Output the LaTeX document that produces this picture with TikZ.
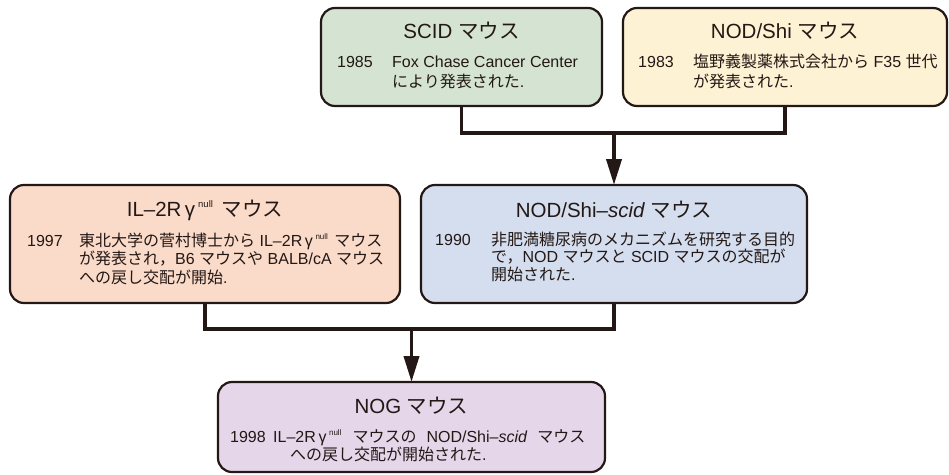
\documentclass[tikz,border=0pt]{standalone}
\usepackage{fontspec}
\setmainfont{Liberation Sans}
\newfontfamily\jpfont{Noto Sans CJK JP}
\usetikzlibrary{arrows.meta}
\newcommand\JA[1]{{\jpfont #1}}
\newcommand\nulT{\hspace{3pt}\raisebox{8.5pt}{\fontsize{9.5}{9.5}\selectfont null}\hspace{3pt}}
\newcommand\nulB{\hspace{2.5pt}\raisebox{7pt}{\fontsize{8}{8}\selectfont null}\hspace{2pt}}
\definecolor{ink}{HTML}{231815}
\definecolor{cscid}{HTML}{D4E3D2}
\definecolor{cnod}{HTML}{FEF2D4}
\definecolor{cil}{HTML}{FADAC8}
\definecolor{cns}{HTML}{D4DEEF}
\definecolor{cnog}{HTML}{E5D6E9}
\tikzset{
  box/.style={draw=ink, line width=2.2pt, rounded corners=14pt, inner sep=0pt, outer sep=0pt},
  conn/.style={draw=ink, line width=3.8pt},
  arr/.style={conn, -{Triangle[length=26pt,width=15pt]}},
  ttl/.style={anchor=base, inner sep=0pt, font=\fontsize{20.5}{23}\selectfont, text=ink},
  bod/.style={anchor=base west, inner sep=0pt, font=\fontsize{16}{19}\selectfont, text=ink}
}
\begin{document}
\begin{tikzpicture}[x=1pt,y=-1pt]
\useasboundingbox (0,0) rectangle (949,474);
% boxes
\node[box, fill=cscid, minimum width=281pt, minimum height=98pt] (scid) at (461.5,57) {};
\node[box, fill=cnod, minimum width=324pt, minimum height=98pt] (nodshi) at (785,57) {};
\node[box, fill=cil, minimum width=390pt, minimum height=118pt] (il) at (205,244) {};
\node[box, fill=cns, minimum width=386pt, minimum height=118pt] (ns) at (614,244) {};
\node[box, fill=cnog, minimum width=387pt, minimum height=90pt] (nog) at (411.5,427) {};
% connectors
\draw[conn] (scid.south) -- ++(0,27) -| (nodshi.south);
\coordinate (m1) at (614,133);
\draw[arr] (m1) -- (ns.north);
\draw[conn] (il.south) -- ++(0,26) -| (ns.south);
\coordinate (m2) at (411.5,329);
\draw[arr] (m2) -- (nog.north);
% SCID
\node[ttl] (t1) at (461.5,38) {SCID \JA{マウス}};
\node[bod] (y1) at (337,67) {1985};
\node[bod] (b1a) at (392,67) {Fox Chase Cancer Center};
\node[bod] (b1b) at (392,87) {\JA{により発表された}.};
% NOD/Shi
\node[ttl] (t2) at (785,38) {NOD/Shi \JA{マウス}};
\node[bod] (y2) at (638,67) {1983};
\node[bod] (b2a) at (693,67) {\JA{塩野義製薬株式会社から} F35 \JA{世代}};
\node[bod] (b2b) at (693,87) {\JA{が発表された}.};
% IL-2R
\node[ttl] (t3) at (205,216) {IL–2R\,γ\nulT\ \JA{マウス}};
\node[bod] (y3) at (27,246) {1997};
\node[bod] (b3a) at (79,246) {\JA{東北大学の菅村博士から} IL–2R\,γ\nulB\ \JA{マウス}};
\node[bod] (b3b) at (79,264.5) {\JA{が発表され，}B6 \JA{マウスや} BALB/cA \JA{マウス}};
\node[bod] (b3c) at (79,283) {\JA{への戻し交配が開始}.};
% NOD/Shi-scid
\node[ttl] (t4) at (614,217) {NOD/Shi–\textit{scid} \JA{マウス}};
\node[bod] (y4) at (435,245) {1990};
\node[bod] (b4a) at (491,245) {\JA{非肥満糖尿病のメカニズムを研究する目的}};
\node[bod] (b4b) at (491,262.5) {\JA{で，}NOD \JA{マウスと} SCID \JA{マウスの交配が}};
\node[bod] (b4c) at (491,280) {\JA{開始された}.};
% NOG
\node[ttl] (t5) at (411.5,413) {NOG \JA{マウス}};
\node[bod] (y5) at (230,442) {1998};
\node[bod] (b5a) at (273,442) {IL–2R\,γ\nulB\hspace{9pt}\JA{マウスの}\hspace{10pt}NOD/Shi–\textit{scid}\hspace{10pt}\JA{マウス}};
\node[bod] (b5b) at (290,460) {\JA{への戻し交配が開始された}.};
\end{tikzpicture}
\end{document}
